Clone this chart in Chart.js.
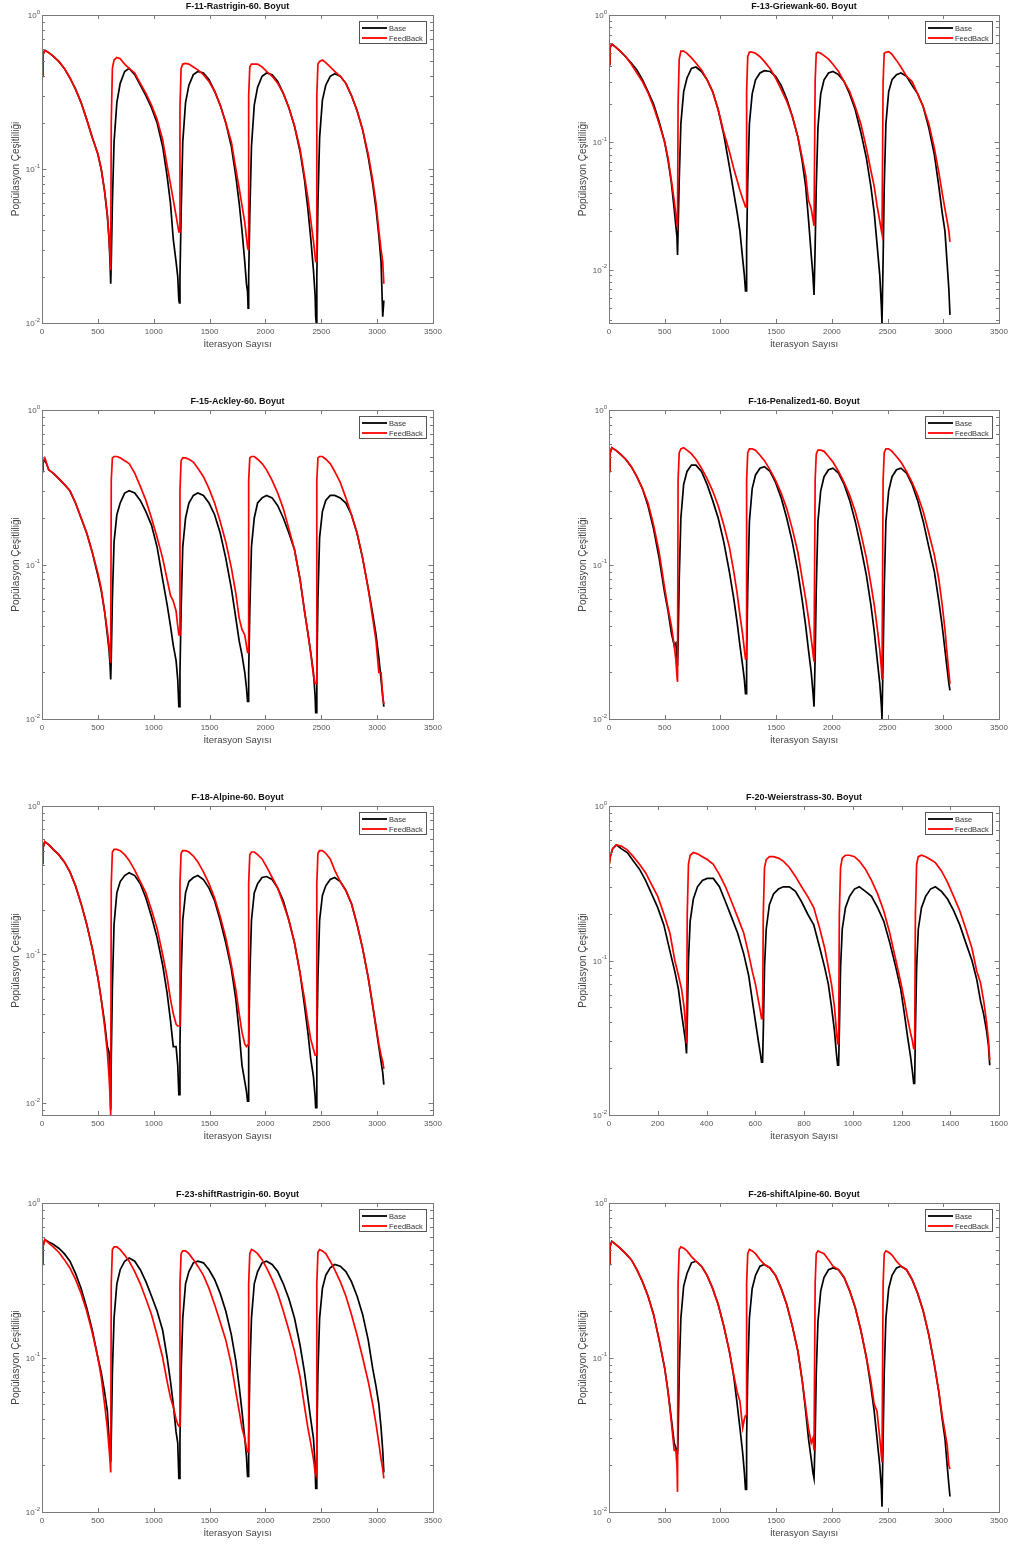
<!DOCTYPE html>
<html>
<head>
<meta charset="utf-8">
<script src="https://cdn.jsdelivr.net/npm/chart.js@4.4.1/dist/chart.umd.min.js"></script>
<style>
html,body{margin:0;padding:0;background:#fff;width:1016px;height:1546px;overflow:hidden;}
canvas{position:absolute;}
</style>
</head>
<body>
<script>
// ---------- DATA ----------
const iterGrid3500 = [
  0, 8, 25, 60, 100, 150, 200, 250, 300, 350, 400, 450, 500, 530, 560, 585, 600, 610,
  615, 620, 630, 645, 670, 700, 740, 780, 830, 880, 930, 980, 1030, 1080, 1120, 1150, 1175, 1200, 1215, 1225,
  1230, 1235, 1245, 1260, 1285, 1315, 1355, 1395, 1445, 1495, 1545, 1595, 1645, 1695, 1735, 1765, 1790, 1815, 1830, 1840,
  1845, 1850, 1860, 1875, 1900, 1930, 1970, 2010, 2060, 2110, 2160, 2210, 2260, 2310, 2350, 2380, 2405, 2430, 2445, 2450,
  2455, 2460, 2470, 2485, 2510, 2540, 2580, 2620, 2670, 2720, 2770, 2820, 2870, 2920, 2960, 2990, 3015, 3035, 3050, 3060
];
const iterGrid1600 = [
  0, 5, 15, 30, 50, 75, 100, 125, 150, 175, 200, 225, 250, 270, 285, 298, 308, 314,
  318, 321, 326, 333, 346, 363, 383, 403, 428, 453, 478, 503, 528, 553, 573, 588, 601, 613, 621, 626,
  630, 633, 638, 645, 658, 675, 695, 715, 740, 765, 790, 815, 840, 865, 885, 900, 913, 925, 933, 938,
  942, 945, 950, 957, 970, 987, 1007, 1027, 1052, 1077, 1102, 1127, 1152, 1177, 1197, 1212, 1225, 1237, 1245, 1250,
  1254, 1257, 1262, 1269, 1282, 1299, 1319, 1339, 1364, 1389, 1414, 1439, 1464, 1489, 1509, 1524, 1537, 1549, 1557, 1562
];
const xTicks3500 = [0, 500, 1000, 1500, 2000, 2500, 3000, 3500];
const xTicks1600 = [0, 200, 400, 600, 800, 1000, 1200, 1400, 1600];

const f11Base = [
  0.40, 0.55, 0.59, 0.57, 0.54, 0.50, 0.45, 0.39, 0.33, 0.27, 0.21, 0.16, 0.125, 0.10, 0.072, 0.05, 0.035, 0.024,
  0.018, 0.025, 0.06, 0.15, 0.27, 0.36, 0.43, 0.45, 0.41, 0.35, 0.30, 0.25, 0.20, 0.14, 0.09, 0.06, 0.035, 0.025, 0.02, 0.014,
  0.0135, 0.02, 0.05, 0.15, 0.27, 0.35, 0.41, 0.43, 0.42, 0.38, 0.32, 0.26, 0.20, 0.14, 0.09, 0.06, 0.04, 0.025, 0.018, 0.016,
  0.0125, 0.02, 0.05, 0.14, 0.26, 0.34, 0.40, 0.42, 0.41, 0.37, 0.31, 0.25, 0.19, 0.13, 0.085, 0.055, 0.036, 0.022, 0.015, 0.011,
  0.010, 0.02, 0.06, 0.16, 0.28, 0.35, 0.40, 0.415, 0.40, 0.36, 0.30, 0.24, 0.18, 0.12, 0.08, 0.055, 0.037, 0.025, 0.011, 0.014
];
const f11Feed = [
  0.40, 0.55, 0.59, 0.57, 0.54, 0.50, 0.45, 0.39, 0.33, 0.27, 0.21, 0.16, 0.125, 0.10, 0.072, 0.05, 0.036, 0.027,
  0.022, 0.2, 0.45, 0.51, 0.53, 0.52, 0.48, 0.45, 0.42, 0.36, 0.31, 0.26, 0.21, 0.155, 0.105, 0.08, 0.063, 0.05, 0.043, 0.039,
  0.039, 0.25, 0.45, 0.48, 0.485, 0.48, 0.46, 0.44, 0.41, 0.37, 0.32, 0.26, 0.20, 0.15, 0.10, 0.075, 0.058, 0.045, 0.036, 0.031,
  0.03, 0.3, 0.46, 0.48, 0.48, 0.48, 0.46, 0.43, 0.40, 0.36, 0.31, 0.25, 0.19, 0.135, 0.09, 0.065, 0.047, 0.034, 0.027, 0.025,
  0.025, 0.3, 0.48, 0.50, 0.51, 0.49, 0.46, 0.43, 0.40, 0.36, 0.30, 0.24, 0.18, 0.125, 0.085, 0.06, 0.04, 0.03, 0.025, 0.018
];

const f13Base = [
  0.41, 0.55, 0.59, 0.56, 0.52, 0.47, 0.42, 0.37, 0.31, 0.25, 0.20, 0.145, 0.10, 0.072, 0.048, 0.03, 0.022, 0.018,
  0.013, 0.02, 0.05, 0.14, 0.25, 0.32, 0.38, 0.39, 0.36, 0.31, 0.25, 0.18, 0.115, 0.065, 0.04, 0.028, 0.02, 0.012, 0.009, 0.0068,
  0.0068, 0.015, 0.05, 0.14, 0.24, 0.31, 0.35, 0.365, 0.36, 0.33, 0.28, 0.22, 0.16, 0.11, 0.07, 0.045, 0.025, 0.013, 0.009, 0.0063,
  0.0063, 0.015, 0.045, 0.13, 0.24, 0.31, 0.35, 0.36, 0.34, 0.30, 0.24, 0.18, 0.12, 0.075, 0.045, 0.028, 0.016, 0.009, 0.005, 0.0038,
  0.0038, 0.012, 0.045, 0.14, 0.25, 0.31, 0.34, 0.35, 0.33, 0.28, 0.24, 0.19, 0.13, 0.08, 0.045, 0.028, 0.02, 0.011, 0.007, 0.0044
];
const f13Feed = [
  0.41, 0.55, 0.59, 0.56, 0.52, 0.47, 0.41, 0.35, 0.30, 0.245, 0.19, 0.14, 0.10, 0.075, 0.05, 0.035, 0.027, 0.023,
  0.022, 0.2, 0.45, 0.52, 0.52, 0.50, 0.46, 0.42, 0.37, 0.31, 0.25, 0.18, 0.12, 0.085, 0.062, 0.05, 0.042, 0.036, 0.033, 0.031,
  0.031, 0.25, 0.47, 0.51, 0.51, 0.50, 0.47, 0.43, 0.38, 0.32, 0.26, 0.21, 0.16, 0.11, 0.075, 0.055, 0.035, 0.03, 0.025, 0.022,
  0.022, 0.3, 0.50, 0.51, 0.50, 0.48, 0.45, 0.41, 0.36, 0.30, 0.25, 0.19, 0.14, 0.09, 0.06, 0.045, 0.032, 0.024, 0.02, 0.019,
  0.019, 0.3, 0.50, 0.51, 0.515, 0.49, 0.44, 0.39, 0.33, 0.30, 0.24, 0.19, 0.14, 0.09, 0.058, 0.04, 0.03, 0.024, 0.02, 0.0165
];

const f15Base = [
  0.40, 0.45, 0.48, 0.41, 0.39, 0.36, 0.33, 0.30, 0.25, 0.20, 0.16, 0.12, 0.085, 0.068, 0.05, 0.035, 0.028, 0.022,
  0.018, 0.025, 0.06, 0.14, 0.21, 0.25, 0.29, 0.30, 0.29, 0.26, 0.22, 0.18, 0.13, 0.08, 0.055, 0.04, 0.03, 0.024, 0.018, 0.012,
  0.012, 0.02, 0.05, 0.13, 0.20, 0.25, 0.28, 0.29, 0.28, 0.25, 0.21, 0.16, 0.11, 0.07, 0.045, 0.032, 0.026, 0.02, 0.016, 0.013,
  0.013, 0.02, 0.05, 0.13, 0.20, 0.25, 0.27, 0.28, 0.27, 0.24, 0.20, 0.16, 0.125, 0.08, 0.05, 0.036, 0.027, 0.02, 0.014, 0.011,
  0.011, 0.02, 0.06, 0.15, 0.22, 0.26, 0.28, 0.28, 0.27, 0.25, 0.21, 0.16, 0.11, 0.07, 0.048, 0.035, 0.025, 0.018, 0.014, 0.012
];
const f15Feed = [
  0.40, 0.46, 0.49, 0.41, 0.39, 0.36, 0.33, 0.30, 0.25, 0.20, 0.16, 0.12, 0.088, 0.07, 0.05, 0.037, 0.03, 0.025,
  0.023, 0.35, 0.49, 0.50, 0.50, 0.49, 0.47, 0.45, 0.39, 0.32, 0.26, 0.20, 0.15, 0.11, 0.08, 0.063, 0.058, 0.05, 0.04, 0.035,
  0.035, 0.3, 0.47, 0.49, 0.49, 0.48, 0.46, 0.42, 0.37, 0.31, 0.25, 0.19, 0.14, 0.095, 0.065, 0.045, 0.038, 0.035, 0.03, 0.027,
  0.027, 0.35, 0.49, 0.50, 0.50, 0.48, 0.45, 0.41, 0.35, 0.29, 0.23, 0.17, 0.125, 0.08, 0.05, 0.036, 0.027, 0.019, 0.017, 0.017,
  0.017, 0.35, 0.49, 0.50, 0.50, 0.48, 0.45, 0.40, 0.34, 0.27, 0.21, 0.16, 0.11, 0.07, 0.045, 0.032, 0.02, 0.02, 0.014, 0.0125
];

const f16Base = [
  0.40, 0.52, 0.57, 0.55, 0.52, 0.48, 0.43, 0.37, 0.31, 0.24, 0.17, 0.11, 0.065, 0.05, 0.036, 0.03, 0.031, 0.025,
  0.022, 0.03, 0.08, 0.20, 0.33, 0.40, 0.44, 0.44, 0.40, 0.33, 0.26, 0.20, 0.14, 0.09, 0.06, 0.042, 0.03, 0.022, 0.018, 0.0146,
  0.0146, 0.025, 0.07, 0.19, 0.31, 0.38, 0.42, 0.43, 0.40, 0.34, 0.27, 0.20, 0.14, 0.09, 0.058, 0.04, 0.028, 0.02, 0.015, 0.012,
  0.012, 0.025, 0.07, 0.19, 0.30, 0.37, 0.41, 0.42, 0.39, 0.33, 0.26, 0.19, 0.13, 0.085, 0.055, 0.037, 0.025, 0.017, 0.012, 0.010,
  0.010, 0.025, 0.07, 0.19, 0.30, 0.37, 0.41, 0.42, 0.39, 0.33, 0.26, 0.19, 0.13, 0.09, 0.058, 0.04, 0.028, 0.021, 0.017, 0.0153
];
const f16Feed = [
  0.40, 0.52, 0.57, 0.55, 0.52, 0.48, 0.43, 0.37, 0.31, 0.25, 0.18, 0.12, 0.07, 0.052, 0.04, 0.03, 0.024, 0.019,
  0.0174, 0.35, 0.53, 0.56, 0.57, 0.55, 0.52, 0.48, 0.42, 0.36, 0.30, 0.24, 0.18, 0.13, 0.09, 0.065, 0.047, 0.035, 0.028, 0.0245,
  0.0245, 0.35, 0.53, 0.56, 0.56, 0.55, 0.51, 0.47, 0.41, 0.35, 0.29, 0.23, 0.17, 0.12, 0.08, 0.06, 0.045, 0.033, 0.027, 0.0235,
  0.0235, 0.35, 0.52, 0.55, 0.55, 0.54, 0.50, 0.46, 0.40, 0.34, 0.28, 0.22, 0.16, 0.11, 0.075, 0.055, 0.04, 0.028, 0.021, 0.018,
  0.018, 0.35, 0.53, 0.56, 0.56, 0.54, 0.50, 0.46, 0.40, 0.34, 0.28, 0.22, 0.16, 0.115, 0.08, 0.055, 0.038, 0.026, 0.02, 0.0168
];

const f18Base = [
  0.41, 0.52, 0.575, 0.55, 0.51, 0.47, 0.42, 0.36, 0.29, 0.22, 0.16, 0.11, 0.07, 0.05, 0.035, 0.024, 0.022, 0.013,
  0.009, 0.02, 0.06, 0.16, 0.26, 0.31, 0.34, 0.355, 0.34, 0.30, 0.24, 0.18, 0.13, 0.085, 0.055, 0.036, 0.024, 0.024, 0.018, 0.0114,
  0.0114, 0.025, 0.07, 0.17, 0.26, 0.31, 0.33, 0.34, 0.32, 0.28, 0.23, 0.17, 0.12, 0.08, 0.05, 0.03, 0.018, 0.014, 0.012, 0.0103,
  0.0103, 0.025, 0.07, 0.17, 0.26, 0.30, 0.33, 0.335, 0.32, 0.28, 0.23, 0.17, 0.12, 0.075, 0.045, 0.03, 0.02, 0.015, 0.011, 0.0093,
  0.0093, 0.025, 0.07, 0.17, 0.25, 0.29, 0.32, 0.33, 0.31, 0.27, 0.22, 0.16, 0.11, 0.07, 0.045, 0.032, 0.024, 0.019, 0.016, 0.0133
];
const f18Feed = [
  0.41, 0.52, 0.575, 0.55, 0.51, 0.47, 0.42, 0.36, 0.29, 0.22, 0.16, 0.11, 0.07, 0.05, 0.033, 0.022, 0.015, 0.011,
  0.0083, 0.3, 0.49, 0.51, 0.51, 0.50, 0.47, 0.43, 0.37, 0.31, 0.26, 0.20, 0.15, 0.10, 0.07, 0.05, 0.04, 0.034, 0.033, 0.033,
  0.033, 0.3, 0.48, 0.50, 0.50, 0.49, 0.46, 0.42, 0.36, 0.30, 0.24, 0.18, 0.13, 0.085, 0.058, 0.04, 0.03, 0.025, 0.024, 0.0245,
  0.0245, 0.3, 0.47, 0.49, 0.49, 0.47, 0.44, 0.39, 0.33, 0.28, 0.22, 0.17, 0.12, 0.075, 0.05, 0.035, 0.027, 0.023, 0.021, 0.021,
  0.021, 0.3, 0.48, 0.50, 0.50, 0.48, 0.44, 0.37, 0.31, 0.27, 0.22, 0.16, 0.11, 0.07, 0.046, 0.033, 0.025, 0.021, 0.019, 0.017
];

const f20Base = [
  0.41, 0.47, 0.53, 0.56, 0.53, 0.50, 0.44, 0.39, 0.33, 0.27, 0.22, 0.17, 0.115, 0.085, 0.065, 0.045, 0.035, 0.03,
  0.025, 0.04, 0.10, 0.18, 0.25, 0.30, 0.33, 0.34, 0.34, 0.30, 0.24, 0.19, 0.15, 0.11, 0.08, 0.055, 0.04, 0.03, 0.025, 0.022,
  0.022, 0.035, 0.09, 0.16, 0.23, 0.27, 0.29, 0.30, 0.30, 0.28, 0.24, 0.20, 0.17, 0.12, 0.09, 0.07, 0.05, 0.035, 0.025, 0.021,
  0.021, 0.035, 0.09, 0.16, 0.22, 0.26, 0.29, 0.30, 0.28, 0.26, 0.22, 0.18, 0.13, 0.09, 0.065, 0.045, 0.032, 0.024, 0.019, 0.016,
  0.016, 0.035, 0.09, 0.16, 0.22, 0.26, 0.29, 0.30, 0.28, 0.25, 0.21, 0.17, 0.13, 0.10, 0.075, 0.055, 0.045, 0.035, 0.028, 0.021
];
const f20Feed = [
  0.41, 0.47, 0.53, 0.56, 0.55, 0.52, 0.47, 0.42, 0.37, 0.31, 0.26, 0.20, 0.15, 0.10, 0.08, 0.065, 0.05, 0.038,
  0.029, 0.2, 0.42, 0.48, 0.50, 0.49, 0.47, 0.45, 0.42, 0.36, 0.30, 0.24, 0.19, 0.15, 0.11, 0.085, 0.07, 0.055, 0.047, 0.042,
  0.042, 0.2, 0.40, 0.45, 0.47, 0.47, 0.46, 0.44, 0.40, 0.35, 0.30, 0.26, 0.22, 0.16, 0.12, 0.09, 0.07, 0.05, 0.035, 0.029,
  0.029, 0.2, 0.40, 0.46, 0.48, 0.48, 0.47, 0.44, 0.39, 0.33, 0.27, 0.21, 0.15, 0.10, 0.072, 0.055, 0.042, 0.034, 0.03, 0.027,
  0.027, 0.2, 0.42, 0.47, 0.48, 0.47, 0.45, 0.43, 0.38, 0.32, 0.26, 0.21, 0.16, 0.12, 0.085, 0.072, 0.055, 0.04, 0.03, 0.0226
];

const f23Base = [
  0.40, 0.52, 0.58, 0.56, 0.54, 0.51, 0.47, 0.42, 0.35, 0.28, 0.21, 0.15, 0.10, 0.08, 0.06, 0.045, 0.03, 0.025,
  0.021, 0.03, 0.08, 0.18, 0.30, 0.37, 0.42, 0.44, 0.42, 0.37, 0.31, 0.25, 0.20, 0.15, 0.10, 0.07, 0.05, 0.033, 0.028, 0.0165,
  0.0165, 0.03, 0.08, 0.18, 0.30, 0.36, 0.41, 0.42, 0.41, 0.37, 0.32, 0.26, 0.20, 0.14, 0.095, 0.065, 0.045, 0.03, 0.023, 0.017,
  0.017, 0.03, 0.08, 0.18, 0.30, 0.36, 0.41, 0.42, 0.40, 0.36, 0.30, 0.24, 0.18, 0.12, 0.08, 0.055, 0.04, 0.03, 0.02, 0.0142,
  0.0142, 0.03, 0.08, 0.18, 0.28, 0.34, 0.38, 0.40, 0.39, 0.36, 0.31, 0.25, 0.19, 0.13, 0.085, 0.065, 0.05, 0.035, 0.025, 0.018
];
const f23Feed = [
  0.40, 0.52, 0.58, 0.55, 0.52, 0.48, 0.43, 0.38, 0.32, 0.26, 0.20, 0.145, 0.10, 0.075, 0.05, 0.035, 0.026, 0.021,
  0.018, 0.3, 0.50, 0.52, 0.52, 0.50, 0.46, 0.42, 0.36, 0.30, 0.24, 0.19, 0.14, 0.10, 0.07, 0.055, 0.048, 0.04, 0.037, 0.036,
  0.036, 0.3, 0.47, 0.49, 0.49, 0.47, 0.43, 0.39, 0.34, 0.28, 0.22, 0.17, 0.13, 0.09, 0.06, 0.045, 0.035, 0.03, 0.026, 0.0245,
  0.0245, 0.3, 0.47, 0.50, 0.49, 0.47, 0.43, 0.38, 0.32, 0.26, 0.20, 0.15, 0.11, 0.075, 0.048, 0.035, 0.028, 0.022, 0.018, 0.0175,
  0.0175, 0.3, 0.48, 0.50, 0.49, 0.47, 0.42, 0.37, 0.31, 0.25, 0.19, 0.14, 0.10, 0.07, 0.05, 0.037, 0.028, 0.022, 0.019, 0.0165
];

const f26Base = [
  0.40, 0.52, 0.565, 0.54, 0.51, 0.47, 0.43, 0.37, 0.31, 0.25, 0.19, 0.13, 0.085, 0.06, 0.04, 0.028, 0.026, 0.024,
  0.024, 0.03, 0.08, 0.18, 0.29, 0.35, 0.41, 0.42, 0.39, 0.34, 0.28, 0.22, 0.16, 0.11, 0.075, 0.05, 0.035, 0.024, 0.018, 0.014,
  0.014, 0.03, 0.08, 0.18, 0.28, 0.34, 0.39, 0.40, 0.38, 0.34, 0.28, 0.22, 0.16, 0.11, 0.07, 0.045, 0.03, 0.022, 0.018, 0.0165,
  0.0165, 0.03, 0.08, 0.17, 0.27, 0.33, 0.37, 0.38, 0.37, 0.33, 0.27, 0.21, 0.15, 0.10, 0.065, 0.045, 0.03, 0.02, 0.014, 0.0108,
  0.0108, 0.03, 0.08, 0.18, 0.28, 0.34, 0.38, 0.39, 0.37, 0.32, 0.26, 0.20, 0.14, 0.09, 0.06, 0.04, 0.03, 0.02, 0.015, 0.0126
];
const f26Feed = [
  0.40, 0.52, 0.565, 0.54, 0.51, 0.47, 0.43, 0.37, 0.31, 0.25, 0.19, 0.13, 0.085, 0.06, 0.038, 0.025, 0.025, 0.02,
  0.0135, 0.3, 0.50, 0.52, 0.51, 0.49, 0.45, 0.42, 0.39, 0.34, 0.28, 0.22, 0.16, 0.11, 0.077, 0.06, 0.052, 0.035, 0.04, 0.042,
  0.042, 0.3, 0.47, 0.50, 0.49, 0.47, 0.43, 0.40, 0.38, 0.34, 0.28, 0.22, 0.16, 0.11, 0.07, 0.048, 0.035, 0.028, 0.03, 0.025,
  0.025, 0.3, 0.47, 0.49, 0.48, 0.47, 0.43, 0.39, 0.37, 0.33, 0.27, 0.21, 0.15, 0.10, 0.07, 0.05, 0.045, 0.03, 0.023, 0.021,
  0.021, 0.3, 0.47, 0.49, 0.48, 0.46, 0.42, 0.39, 0.37, 0.32, 0.26, 0.20, 0.14, 0.09, 0.06, 0.042, 0.033, 0.027, 0.02, 0.019
];

const seriesLabels = ['Base', 'FeedBack'];
const xAxisTitle = 'İterasyon Sayısı';
const yAxisTitle = 'Popülasyon Çeşitliliği';

// ---------- LAYOUT ----------
const panels = [
  {title: 'F-11-Rastrigin-60. Boyut',     x: iterGrid3500, base: f11Base, feed: f11Feed, xMax: 3500, xStep: 500, xTicks: xTicks3500, yMin: 0.01,   col: 0, pt: 15,   pb: 323},
  {title: 'F-13-Griewank-60. Boyut',      x: iterGrid3500, base: f13Base, feed: f13Feed, xMax: 3500, xStep: 500, xTicks: xTicks3500, yMin: 0.0038, col: 1, pt: 15,   pb: 323},
  {title: 'F-15-Ackley-60. Boyut',        x: iterGrid3500, base: f15Base, feed: f15Feed, xMax: 3500, xStep: 500, xTicks: xTicks3500, yMin: 0.01,   col: 0, pt: 410,  pb: 719},
  {title: 'F-16-Penalized1-60. Boyut',    x: iterGrid3500, base: f16Base, feed: f16Feed, xMax: 3500, xStep: 500, xTicks: xTicks3500, yMin: 0.01,   col: 1, pt: 410,  pb: 719},
  {title: 'F-18-Alpine-60. Boyut',        x: iterGrid3500, base: f18Base, feed: f18Feed, xMax: 3500, xStep: 500, xTicks: xTicks3500, yMin: 0.0083, col: 0, pt: 806,  pb: 1115},
  {title: 'F-20-Weierstrass-30. Boyut',   x: iterGrid1600, base: f20Base, feed: f20Feed, xMax: 1600, xStep: 200, xTicks: xTicks1600, yMin: 0.01,   col: 1, pt: 806,  pb: 1115},
  {title: 'F-23-shiftRastrigin-60. Boyut',x: iterGrid3500, base: f23Base, feed: f23Feed, xMax: 3500, xStep: 500, xTicks: xTicks3500, yMin: 0.01,   col: 0, pt: 1203, pb: 1512},
  {title: 'F-26-shiftAlpine-60. Boyut',   x: iterGrid3500, base: f26Base, feed: f26Feed, xMax: 3500, xStep: 500, xTicks: xTicks3500, yMin: 0.01,   col: 1, pt: 1203, pb: 1512}
];
const colGeom = [
  {left: 0,   width: 450, yAxisW: 42, padRight: 17},
  {left: 567, width: 449, yAxisW: 42, padRight: 17}
];

Chart.defaults.font.family = "Arial, 'Liberation Sans', Helvetica, sans-serif";

const matlabBox = {
  id: 'matlabBox',
  afterDatasetsDraw(chart, args, opts) {
    const {ctx, chartArea: a} = chart;
    const xs = chart.scales.x, ys = chart.scales.y;
    ctx.save();
    // box
    ctx.strokeStyle = '#7a7a7a';
    ctx.lineWidth = 1;
    ctx.strokeRect(Math.round(a.left) + 0.5, Math.round(a.top) + 0.5, Math.round(a.right - a.left), Math.round(a.bottom - a.top));
    // x ticks (inward, top & bottom)
    ctx.beginPath();
    opts.xTicks.forEach(v => {
      const px = Math.round(xs.getPixelForValue(v)) + 0.5;
      ctx.moveTo(px, a.bottom); ctx.lineTo(px, a.bottom - 4);
      ctx.moveTo(px, a.top); ctx.lineTo(px, a.top + 4);
    });
    // y ticks, major & minor (inward, left & right)
    for (let e = -3; e <= 0; e++) {
      for (let m = 1; m <= 9; m++) {
        const v = m * Math.pow(10, e);
        if (v < ys.min * 0.9999 || v > ys.max * 1.0001) continue;
        const py = Math.round(ys.getPixelForValue(v)) + 0.5;
        const len = m === 1 ? 4.5 : 3;
        ctx.moveTo(a.left, py); ctx.lineTo(a.left + len, py);
        ctx.moveTo(a.right, py); ctx.lineTo(a.right - len, py);
      }
    }
    ctx.stroke();
    // y labels 10^k
    ctx.fillStyle = '#555';
    ctx.textBaseline = 'middle';
    for (let e = -3; e <= 0; e++) {
      const v = Math.pow(10, e);
      if (v < ys.min * 0.9999 || v > ys.max * 1.0001) continue;
      const py = ys.getPixelForValue(v);
      const expStr = e === 0 ? '0' : '-' + (-e);
      ctx.font = "6px Arial, 'Liberation Sans', sans-serif";
      const ew = ctx.measureText(expStr).width;
      ctx.font = "8px Arial, 'Liberation Sans', sans-serif";
      const bw = ctx.measureText('10').width;
      const right = a.left - 2;
      ctx.textAlign = 'left';
      ctx.fillText('10', right - ew - bw, py + 1);
      ctx.font = "6px Arial, 'Liberation Sans', sans-serif";
      ctx.fillText(expStr, right - ew, py - 3);
    }
    // title
    ctx.fillStyle = '#111';
    ctx.font = "bold 9px Arial, 'Liberation Sans', sans-serif";
    ctx.textAlign = 'center';
    ctx.textBaseline = 'middle';
    ctx.fillText(opts.title, (a.left + a.right) / 2, a.top - 8);
    // legend
    const lw = 67, lh = 22;
    const lx = Math.round(a.right - 7 - lw), ly = Math.round(a.top + 6);
    ctx.fillStyle = '#fff';
    ctx.fillRect(lx, ly, lw, lh);
    ctx.strokeStyle = '#555';
    ctx.lineWidth = 1;
    ctx.strokeRect(lx + 0.5, ly + 0.5, lw, lh);
    const entries = [
      {label: seriesLabels[0], color: '#000000'},
      {label: seriesLabels[1], color: '#ff0000'}
    ];
    ctx.font = "7.5px Arial, 'Liberation Sans', sans-serif";
    ctx.textAlign = 'left';
    entries.forEach((en, i) => {
      const yy = ly + 7 + i * 10;
      ctx.strokeStyle = en.color;
      ctx.lineWidth = 1.8;
      ctx.beginPath();
      ctx.moveTo(lx + 3, yy); ctx.lineTo(lx + 28, yy);
      ctx.stroke();
      ctx.fillStyle = '#333';
      ctx.fillText(en.label, lx + 30, yy + 0.5);
    });
    ctx.restore();
  }
};

panels.forEach((p, idx) => {
  const g = colGeom[p.col];
  const ct = p.pt - 15;
  const ch = p.pb + 32 - ct;
  const cv = document.createElement('canvas');
  cv.width = g.width; cv.height = ch;
  cv.style.left = g.left + 'px'; cv.style.top = ct + 'px';
  cv.style.width = g.width + 'px'; cv.style.height = ch + 'px';
  document.body.appendChild(cv);

  new Chart(cv.getContext('2d'), {
    type: 'line',
    data: {
      datasets: [
        {label: seriesLabels[1], data: p.x.map((xv, i) => ({x: xv, y: p.feed[i]})), borderColor: '#ff0000', borderWidth: 1.7, pointRadius: 0, tension: 0, fill: false, order: 1},
        {label: seriesLabels[0], data: p.x.map((xv, i) => ({x: xv, y: p.base[i]})), borderColor: '#000000', borderWidth: 1.7, pointRadius: 0, tension: 0, fill: false, order: 2}
      ]
    },
    options: {
      responsive: false,
      animation: false,
      devicePixelRatio: 1,
      events: [],
      layout: {padding: {top: 15, right: g.padRight, left: 0, bottom: 0}},
      scales: {
        x: {
          type: 'linear', min: 0, max: p.xMax,
          ticks: {stepSize: p.xStep, font: {size: 8}, color: '#555', padding: 4, maxRotation: 0, autoSkip: false,
                  callback: v => String(v)},
          grid: {display: false, drawTicks: false},
          border: {display: false},
          title: {display: true, text: xAxisTitle, font: {size: 9.5}, color: '#444', padding: {top: 0, bottom: 5}},
          afterFit(s) { s.height = 32; }
        },
        y: {
          type: 'logarithmic', min: p.yMin, max: 1,
          ticks: {display: false},
          grid: {display: false, drawTicks: false},
          border: {display: false},
          title: {display: true, text: yAxisTitle, font: {size: 10}, color: '#444', padding: {top: 10, bottom: 0}},
          afterFit(s) { s.width = g.yAxisW; }
        }
      },
      plugins: {
        legend: {display: false},
        tooltip: {enabled: false},
        matlabBox: {title: p.title, xTicks: p.xTicks}
      }
    },
    plugins: [matlabBox]
  });
});
</script>
</body>
</html>
